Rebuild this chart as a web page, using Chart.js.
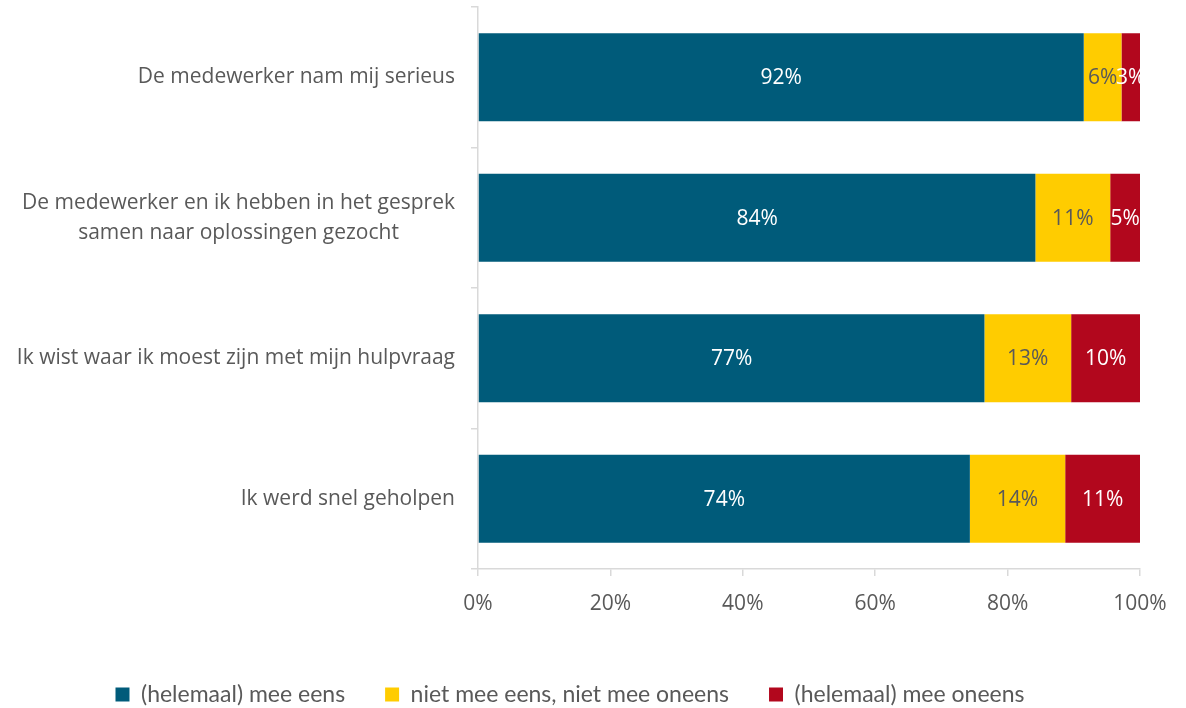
<!DOCTYPE html>
<html>
<head>
<meta charset="utf-8">
<script src="https://cdn.jsdelivr.net/npm/chart.js@4"></script>
<style>
  html, body { margin: 0; padding: 0; background: #fff; }
  #wrap { width: 1186px; height: 708px; }
</style>
</head>
<body>
<div id="wrap"><canvas id="chart"></canvas></div>
<script>
const STATEMENTS = [
  ["De medewerker nam mij serieus"],
  ["De medewerker en ik hebben in het gesprek", "samen naar oplossingen gezocht"],
  ["Ik wist waar ik moest zijn met mijn hulpvraag"],
  ["Ik werd snel geholpen"],
];
const SERIES_NAMES = [
  "(helemaal) mee eens",
  "niet mee eens, niet mee oneens",
  "(helemaal) mee oneens",
];
const AGREE = [91.5, 84.2, 76.5, 74.3];
const NEUTRAL = [5.7, 11.3, 13.1, 14.4];
const DISAGREE = [2.8, 4.5, 10.4, 11.3];
const X_TICKS = [0, 20, 40, 60, 80, 100];

const COLORS = ["#005b7a", "#ffcc00", "#b2071d"];
const LABEL_COLORS = ["#ffffff", "#595959", "#ffffff"];
const TEXT = "#595959";
const AXIS = "#d9d9d9";
const FONT = "'Open Sans', 'Noto Sans', sans-serif";

// percentage text in the middle of every segment
const segmentLabels = {
  id: "segmentLabels",
  afterDatasetsDraw(chart) {
    const ctx = chart.ctx;
    ctx.save();
    ctx.font = "21px " + FONT;
    ctx.textAlign = "center";
    ctx.textBaseline = "middle";
    chart.data.datasets.forEach((ds, i) => {
      const meta = chart.getDatasetMeta(i);
      ctx.fillStyle = LABEL_COLORS[i];
      meta.data.forEach((bar, j) => {
        const { x, base, y } = bar.getProps(["x", "base", "y"], true);
        ctx.fillText(Math.round(ds.data[j]) + "%", (x + base) / 2, y + 1);
      });
    });
    ctx.restore();
  },
};

// category text: block right-aligned, lines centred within the block
const statementLabels = {
  id: "statementLabels",
  afterDraw(chart) {
    const ctx = chart.ctx;
    const yScale = chart.scales.y;
    const right = yScale.right - 23;
    const lineH = 30;
    ctx.save();
    ctx.font = "21px " + FONT;
    ctx.fillStyle = TEXT;
    ctx.textAlign = "center";
    ctx.textBaseline = "middle";
    STATEMENTS.forEach((lines, i) => {
      const cy = yScale.getPixelForValue(i);
      const widest = Math.max(...lines.map((l) => ctx.measureText(l).width));
      const cx = right - widest / 2;
      const top = cy - ((lines.length - 1) * lineH) / 2;
      lines.forEach((l, k) => ctx.fillText(l, cx, top + k * lineH));
    });
    ctx.restore();
  },
};

// push the legend row a little lower than the default layout puts it
const legendOffset = {
  id: "legendOffset",
  afterLayout(chart) {
    chart.legend.top += 8;
    chart.legend.bottom += 8;
  },
};

const datasets = [AGREE, NEUTRAL, DISAGREE].map((values, i) => ({
  label: SERIES_NAMES[i],
  data: values,
  backgroundColor: COLORS[i],
  borderWidth: 0,
  categoryPercentage: 1,
  barPercentage: 0.626,
}));

new Chart(document.getElementById("chart"), {
  type: "bar",
  data: { labels: STATEMENTS.map((l) => l.join(" ")), datasets },
  plugins: [segmentLabels, statementLabels, legendOffset],
  options: {
    indexAxis: "y",
    responsive: true,
    maintainAspectRatio: false,
    animation: false,
    layout: { padding: { top: 7, right: 46, left: 0, bottom: 0 } },
    scales: {
      x: {
        stacked: true,
        min: 0,
        max: 100,
        afterBuildTicks: (scale) => {
          scale.ticks = X_TICKS.map((v) => ({ value: v }));
        },
        afterFit: (scale) => {
          scale.height = 66;
        },
        border: { display: true, color: AXIS, width: 1.5 },
        grid: {
          drawOnChartArea: false,
          drawTicks: true,
          tickLength: 7,
          color: AXIS,
          lineWidth: 1.5,
        },
        ticks: {
          color: TEXT,
          font: { family: FONT, size: 21 },
          padding: 15,
          callback: (v) => v + "%",
        },
      },
      y: {
        stacked: true,
        afterFit: (scale) => {
          scale.width = 478;
        },
        border: { display: true, color: AXIS, width: 1.5 },
        grid: {
          offset: true,
          drawOnChartArea: false,
          drawTicks: true,
          tickLength: 7,
          color: AXIS,
          lineWidth: 1.5,
        },
        ticks: { display: false },
      },
    },
    plugins: {
      tooltip: { enabled: false },
      legend: {
        position: "bottom",
        labels: {
          boxWidth: 14,
          boxHeight: 14,
          padding: 40,
          color: TEXT,
          font: { family: "Lato, sans-serif", size: 23 },
        },
      },
    },
  },
});
</script>
</body>
</html>
